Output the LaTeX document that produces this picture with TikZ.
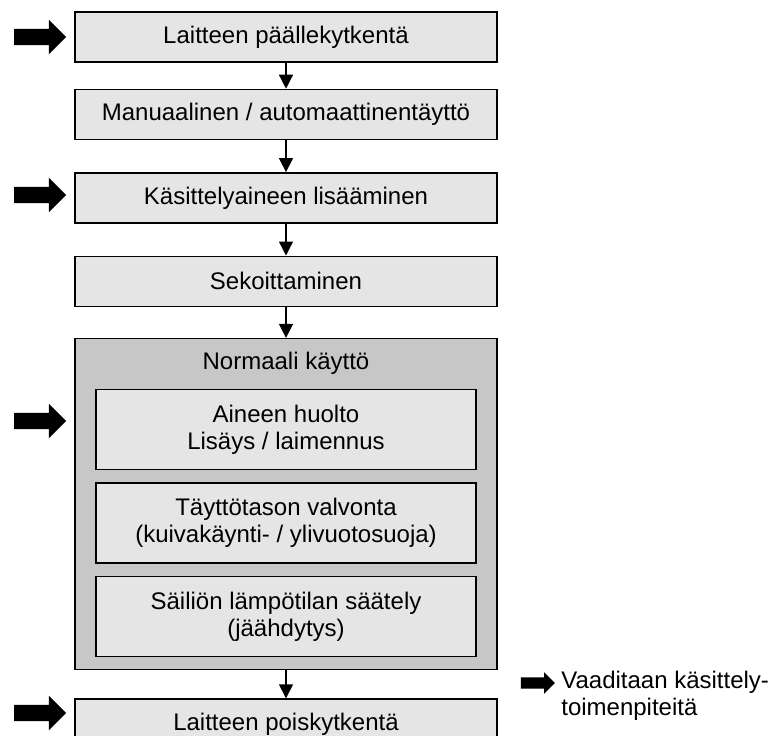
\documentclass[tikz,border=0pt]{standalone}
\usepackage{fontspec}
\setmainfont{Liberation Sans}
\usetikzlibrary{arrows.meta, positioning, shapes.arrows}

\begin{document}
\begin{tikzpicture}[
		  x=1pt, y=1pt,
		  font=\fontsize{24}{27}\selectfont,
		  node distance=26pt,
		  box/.style={
		    draw,
		    line width=1.4pt,
		    align=center,
		    inner sep=0pt,
		    minimum width=422pt,
		    minimum height=50pt,
		    fill=black!10
		  },
		  groupbox/.style={box,fill=black!22,minimum height=331pt},
		  innerbox/.style={box,minimum width=380pt,minimum height=80pt},
		  arrow/.style={-{Triangle[width=14pt,length=14pt]},line width=1.4pt},
		  markarrow/.style={
		    single arrow,
		    fill=black,
		    inner xsep=0pt,
		    inner ysep=8pt,
		    minimum height=52pt,
		    single arrow head extend=9pt
		  },
		  legendarrow/.style={markarrow,inner ysep=5.5pt,minimum height=34pt,single arrow head extend=5pt}
		]
		\useasboundingbox (0,0) rectangle (779,-736);

		% --- main steps ---
		\node[box] (poweron) at (286,-37) {Laitteen päällekytkentä};
		\node[box, below=26pt of poweron] (filling) {Manuaalinen / automaattinentäyttö};
		\node[box, below=32pt of filling] (adding) {Käsittelyaineen lisääminen};
		\node[box, below=32pt of adding] (mixing) {Sekoittaminen};

		% --- normal operation group ---
		\node[groupbox, below=31pt of mixing] (normal) {};
		\node[below=14pt of normal.north, inner sep=0pt] (normaltitle) {Normaali käyttö};
		\node[innerbox, below=51pt of normal.north] (care) {Aineen huolto\\Lisäys / laimennus};
		\node[innerbox, below=12pt of care] (level) {Täyttötason valvonta\\(kuivakäynti- / ylivuotosuoja)};
		\node[innerbox, below=12pt of level] (temp) {Säiliön lämpötilan säätely\\(jäähdytys)};

		\node[box, below=28pt of normal] (poweroff) {Laitteen poiskytkentä};

		% --- marks on the left ---
		\node[markarrow] (mark1) at (36,-37) {};
		\node[markarrow] (mark2) at (36,-195) {};
		\node[markarrow] (mark3) at (36,-421) {};
		\node[markarrow] (mark4) at (36,-713) {};

		% --- legend ---
		\node[legendarrow] (legarrow) at (535,-683) {};
		\node[right=6pt of legarrow, yshift=-13pt, align=left, inner sep=0pt] (legtext) {Vaaditaan käsittely-\\toimenpiteitä};

		% --- arrows ---
		\draw[arrow] (poweron) -- (filling);
		\draw[arrow] (filling) -- (adding);
		\draw[arrow] (adding) -- (mixing);
		\draw[arrow] (mixing) -- (normal);
		\draw[arrow] (normal) -- (poweroff);

		\end{tikzpicture}
\end{document}
